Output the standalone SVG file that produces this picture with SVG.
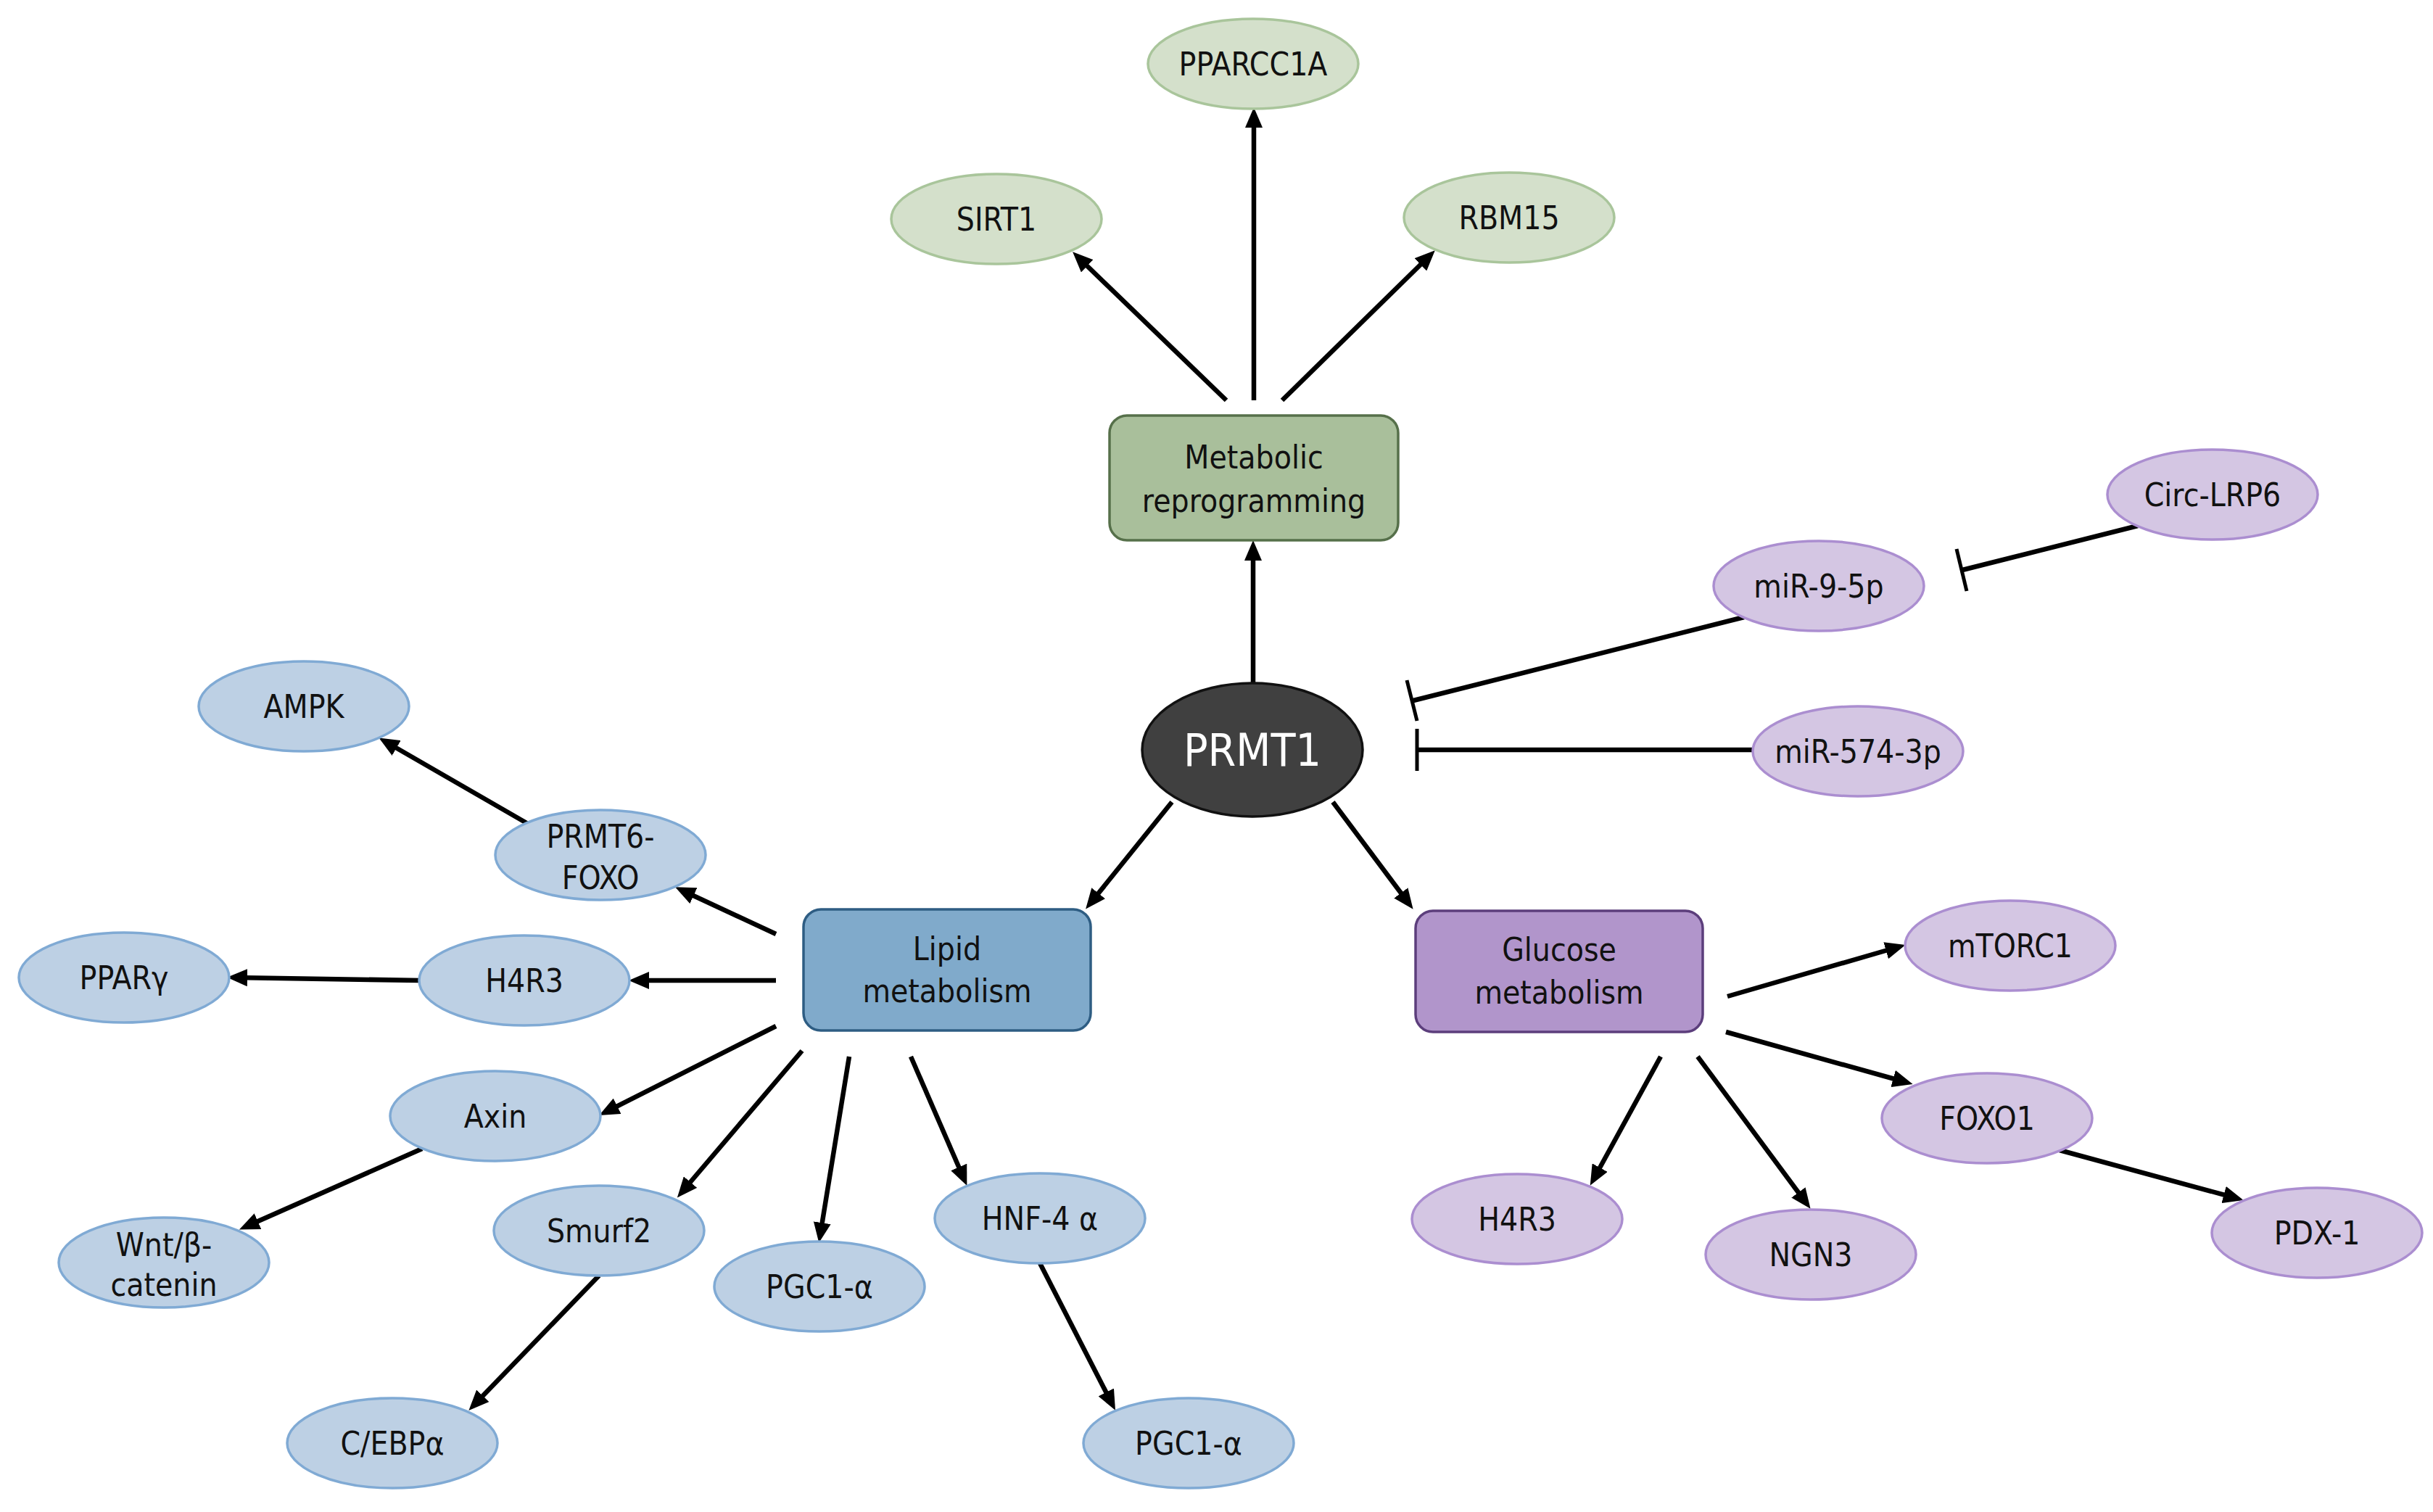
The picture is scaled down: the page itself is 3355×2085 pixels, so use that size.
<svg xmlns="http://www.w3.org/2000/svg" width="3355" height="2085" viewBox="0 0 3355 2085">
<defs>
<marker id="arr" markerUnits="userSpaceOnUse" markerWidth="28" markerHeight="24" viewBox="0 0 28 24" refX="17" refY="12" orient="auto">
<path d="M0,0 L28,12 L0,24 z" fill="#000"/>
</marker>
</defs>
<style>
text{font-family:"DejaVu Sans Condensed","DejaVu Sans","Liberation Sans",sans-serif;font-stretch:condensed;font-size:44px;fill:#111;text-anchor:middle}
.g ellipse{fill:#d4e0cb;stroke:#a9c59b;stroke-width:3.5}
.b ellipse{fill:#bdd0e4;stroke:#80aad4;stroke-width:3.5}
.p ellipse{fill:#d4c6e3;stroke:#ab8ed0;stroke-width:3.5}
.gb rect{fill:#a9bf9b;stroke:#56704a;stroke-width:3.5}
.bb rect{fill:#80aacb;stroke:#2e5d83;stroke-width:3.5}
.pb rect{fill:#b195cb;stroke:#5c3e7c;stroke-width:3.5}
.c line{stroke:#000;stroke-width:6.5;fill:none}
.c .a{marker-end:url(#arr)}
.c .t{stroke-width:5}
</style>
<g class="c" id="connectors">
<line class="a" x1="1691" y1="552" x2="1487" y2="355"/>
<line class="a" x1="1729" y1="552" x2="1729" y2="159"/>
<line class="a" x1="1768" y1="552" x2="1971" y2="353"/>
<line class="a" x1="1728" y1="942" x2="1728" y2="756"/>
<line class="a" x1="1616" y1="1106" x2="1504" y2="1245"/>
<line class="a" x1="1838" y1="1106" x2="1942" y2="1245"/>
<line class="a" x1="1070" y1="1288" x2="941" y2="1228"/>
<line class="a" x1="1070" y1="1352" x2="878" y2="1352"/>
<line class="a" x1="580" y1="1352" x2="324" y2="1348"/>
<line class="a" x1="728" y1="1136" x2="532" y2="1023"/>
<line class="a" x1="1070" y1="1415" x2="836" y2="1533"/>
<line class="a" x1="582" y1="1584" x2="340" y2="1691"/>
<line class="a" x1="1106" y1="1449" x2="941" y2="1643"/>
<line class="a" x1="1171" y1="1457" x2="1131" y2="1703"/>
<line class="a" x1="1256" y1="1457" x2="1329" y2="1625"/>
<line class="a" x1="826" y1="1759" x2="654" y2="1937"/>
<line class="a" x1="1434" y1="1742" x2="1533" y2="1935"/>
<line class="a" x1="2382" y1="1374" x2="2617" y2="1306"/>
<line class="a" x1="2380" y1="1423" x2="2627" y2="1492"/>
<line class="a" x1="2290" y1="1457" x2="2198" y2="1625"/>
<line class="a" x1="2341" y1="1457" x2="2490" y2="1658"/>
<line class="a" x1="2840" y1="1586" x2="3083" y2="1652"/>
<line x1="2405" y1="851" x2="1949" y2="966"/>
<line class="t" x1="1940" y1="938" x2="1954" y2="994"/>
<line x1="2421" y1="1034" x2="1956" y2="1034"/>
<line class="t" x1="1954" y1="1005" x2="1954" y2="1063"/>
<line x1="2948" y1="725" x2="2706" y2="786"/>
<line class="t" x1="2698" y1="757" x2="2712" y2="815"/>
</g>
<g id="n-pparcc1a" class="g"><ellipse cx="1728" cy="88" rx="145" ry="62"/><text x="1728" y="104">PPARCC1A</text></g>
<g id="n-sirt1" class="g"><ellipse cx="1374" cy="302" rx="145" ry="62"/><text x="1374" y="318">SIRT1</text></g>
<g id="n-rbm15" class="g"><ellipse cx="2081" cy="300" rx="145" ry="62"/><text x="2081" y="316">RBM15</text></g>
<g id="n-metabolic" class="gb"><rect x="1530" y="573" width="398" height="172" rx="24"/><text x="1729" y="646">Metabolic</text><text x="1729" y="706">reprogramming</text></g>
<g id="n-prmt1"><ellipse cx="1727" cy="1034" rx="152" ry="92" fill="#404040" stroke="#111" stroke-width="3.5"/><text x="1727" y="1056" style="font-size:62px;fill:#fff">PRMT1</text></g>
<g id="n-circlrp6" class="p"><ellipse cx="3051" cy="682" rx="145" ry="62"/><text x="3051" y="698">Circ-LRP6</text></g>
<g id="n-mir95p" class="p"><ellipse cx="2508" cy="808" rx="145" ry="62"/><text x="2508" y="824">miR-9-5p</text></g>
<g id="n-mir5743p" class="p"><ellipse cx="2562" cy="1036" rx="145" ry="62"/><text x="2562" y="1052">miR-574-3p</text></g>
<g id="n-lipid" class="bb"><rect x="1108" y="1254" width="396" height="167" rx="24"/><text x="1306" y="1324">Lipid</text><text x="1306" y="1382">metabolism</text></g>
<g id="n-glucose" class="pb"><rect x="1952" y="1256" width="396" height="167" rx="24"/><text x="2150" y="1325">Glucose</text><text x="2150" y="1384">metabolism</text></g>
<g id="n-ampk" class="b"><ellipse cx="419" cy="974" rx="145" ry="62"/><text x="419" y="990">AMPK</text></g>
<g id="n-prmt6foxo" class="b"><ellipse cx="828" cy="1179" rx="145" ry="62"/><text x="828" y="1169">PRMT6-</text><text x="828" y="1226">FOXO</text></g>
<g id="n-ppargamma" class="b"><ellipse cx="171" cy="1348" rx="145" ry="62"/><text x="171" y="1364">PPARγ</text></g>
<g id="n-h4r3-lipid" class="b"><ellipse cx="723" cy="1352" rx="145" ry="62"/><text x="723" y="1368">H4R3</text></g>
<g id="n-axin" class="b"><ellipse cx="683" cy="1539" rx="145" ry="62"/><text x="683" y="1555">Axin</text></g>
<g id="n-wnt" class="b"><ellipse cx="226" cy="1741" rx="145" ry="62"/><text x="226" y="1732">Wnt/β-</text><text x="226" y="1787">catenin</text></g>
<g id="n-smurf2" class="b"><ellipse cx="826" cy="1697" rx="145" ry="62"/><text x="826" y="1713">Smurf2</text></g>
<g id="n-pgc1a-1" class="b"><ellipse cx="1130" cy="1774" rx="145" ry="62"/><text x="1130" y="1790">PGC1-α</text></g>
<g id="n-hnf4a" class="b"><ellipse cx="1434" cy="1680" rx="145" ry="62"/><text x="1434" y="1696">HNF-4 α</text></g>
<g id="n-cebpa" class="b"><ellipse cx="541" cy="1990" rx="145" ry="62"/><text x="541" y="2006">C/EBPα</text></g>
<g id="n-pgc1a-2" class="b"><ellipse cx="1639" cy="1990" rx="145" ry="62"/><text x="1639" y="2006">PGC1-α</text></g>
<g id="n-mtorc1" class="p"><ellipse cx="2772" cy="1304" rx="145" ry="62"/><text x="2772" y="1320">mTORC1</text></g>
<g id="n-foxo1" class="p"><ellipse cx="2740" cy="1542" rx="145" ry="62"/><text x="2740" y="1558">FOXO1</text></g>
<g id="n-h4r3-glucose" class="p"><ellipse cx="2092" cy="1681" rx="145" ry="62"/><text x="2092" y="1697">H4R3</text></g>
<g id="n-ngn3" class="p"><ellipse cx="2497" cy="1730" rx="145" ry="62"/><text x="2497" y="1746">NGN3</text></g>
<g id="n-pdx1" class="p"><ellipse cx="3195" cy="1700" rx="145" ry="62"/><text x="3195" y="1716">PDX-1</text></g>
</svg>
